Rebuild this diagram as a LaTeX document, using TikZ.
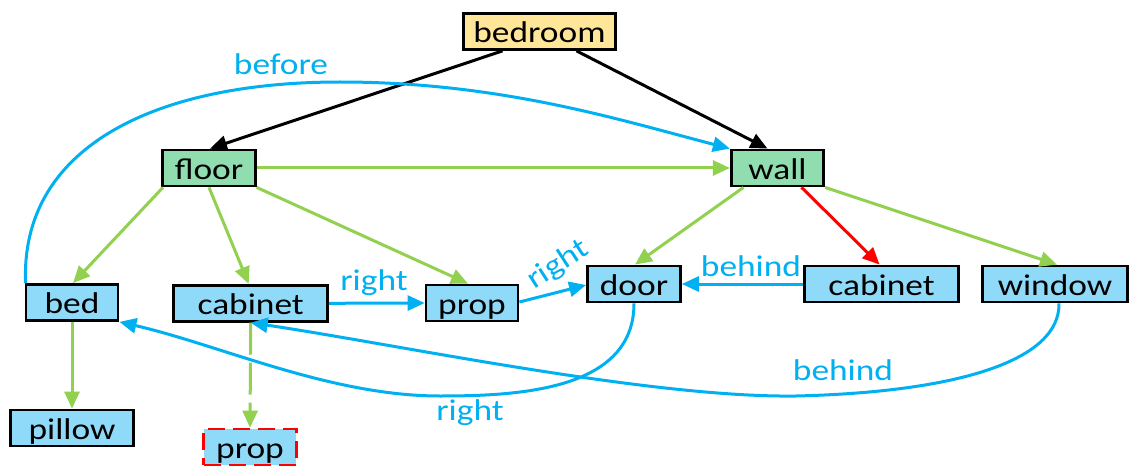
\documentclass[tikz,border=0pt]{standalone}
\usepackage{fontspec}
\setmainfont{Carlito}[FakeStretch=1.18]
\usetikzlibrary{arrows.meta}
\definecolor{lnblue}{HTML}{00B0F0}
\definecolor{lngreen}{HTML}{92D050}
\definecolor{lnred}{HTML}{FF0000}
\definecolor{fillblue}{HTML}{8FDAF8}
\definecolor{fillgreen}{HTML}{90DDB0}
\definecolor{fillyellow}{HTML}{FFE699}
\tikzset{
  box/.style={draw=black, line width=2.8pt, minimum height=36pt, inner xsep=0pt, inner ysep=0pt,
    text height=29pt, text depth=7pt, font=\fontsize{30}{36}\selectfont},
  nblue/.style={box, fill=fillblue},
  ngreen/.style={box, fill=fillgreen},
  nyellow/.style={box, fill=fillyellow},
  ndash/.style={box, fill=fillblue, draw=lnred, dash pattern=on 17pt off 8pt},
  conn/.style={line width=3pt, -{Triangle[length=17pt,width=15pt]}},
  blk/.style={conn, draw=black},
  grn/.style={conn, draw=lngreen},
  blu/.style={conn, draw=lnblue},
  rd/.style={conn, draw=lnred},
  lbl/.style={text=lnblue, font=\fontsize{30}{36}\selectfont, inner sep=0pt}
}
\begin{document}
\begin{tikzpicture}[x=1pt,y=-1pt]
\useasboundingbox (0,0) rectangle (1130,468);
% nodes
\node[nyellow, minimum width=152.5pt] (bedroom) at (539.5,31.5) {bedroom};
\node[ngreen, minimum width=92.5pt] (floor) at (209,168) {floor};
\node[ngreen, minimum width=92.5pt] (wall) at (777.5,168) {wall};
\node[nblue, minimum width=92pt] (bed) at (72,302.5) {bed};
\node[nblue, minimum width=154pt] (cabL) at (250.7,303.3) {cabinet};
\node[nblue, minimum width=92pt] (propA) at (472,303) {prop};
\node[nblue, minimum width=93pt] (door) at (634,284) {door};
\node[nblue, minimum width=153.5pt] (cabR) at (881.6,284) {cabinet};
\node[nblue, minimum width=144.5pt] (window) at (1055,284) {window};
\node[nblue, minimum width=123.5pt] (pillow) at (72,428) {pillow};
\node[ndash, minimum width=92.5pt] (propB) at (250,447) {prop};
% black edges
\draw[blk] ([xshift=-37pt]bedroom.south) -- ([xshift=1pt]floor.north);
\draw[blk] ([xshift=37pt]bedroom.south) -- ([xshift=-10pt]wall.north);
% green edges
\draw[grn] (floor.east) -- (wall.west);
\draw[grn] ([xshift=-46pt]floor.south) -- ([xshift=1pt]bed.north);
\draw[grn] (floor.south) -- ([xshift=-2pt]cabL.north);
\draw[grn] (floor.south east) -- ([xshift=-4pt]propA.north);
\draw[grn] ([xshift=-34pt]wall.south) -- ([xshift=1pt]door.north);
\draw[rd] ([xshift=24pt]wall.south) -- ([xshift=-2pt]cabR.north);
\draw[grn] (wall.south east) -- ([xshift=2pt]window.north);
\draw[grn] (bed.south) -- (pillow.north);
\draw[grn, dash pattern=on 32pt off 8pt] (cabL.south) -- (propB.north);
% blue edges
\draw[blu] (cabL.east) -- (propA.west);
\node[lbl] (lr1) at (374,283) {right};
\draw[blu] ([yshift=1pt]propA.east) -- ([yshift=-1pt]door.west);
\node[lbl, rotate=33] (lr2) at (558,265) {right};
\draw[blu] (cabR.west) -- (door.east);
\node[lbl] (lb1) at (751,266) {behind};
\draw[blu] ([xshift=1pt]bed.north west) .. controls (20,150) and (150,82) .. (340,82)
  .. controls (500,82) and (620,120) .. (wall.north west);
\node[lbl] (lbef) at (281,64) {before};
\draw[blu] (door.south) .. controls (634,390) and (520,396) .. (440,396)
  .. controls (330,396) and (220,345) .. (bed.south east);
\node[lbl] (lr3) at (470,413) {right};
\draw[blu] ([xshift=4pt]window.south) .. controls (1060,360) and (960,392) .. (796,396)
  .. controls (650,398) and (400,345) .. (cabL.south);
\node[lbl] (lb2) at (843,370) {behind};
\end{tikzpicture}
\end{document}
